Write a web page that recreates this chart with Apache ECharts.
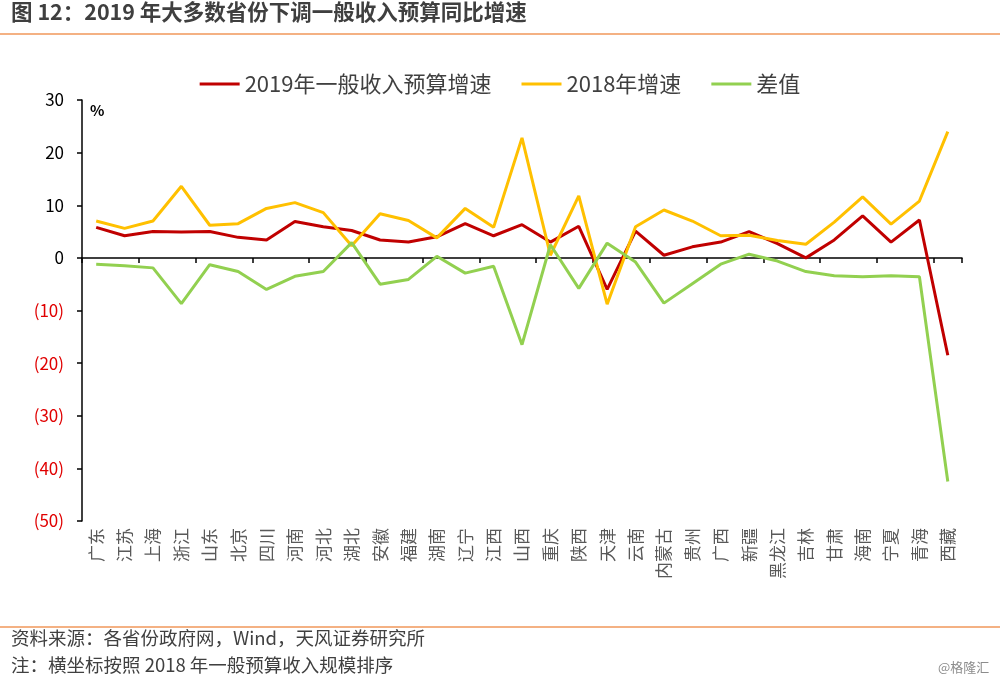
<!DOCTYPE html>
<html lang="zh">
<head>
    <meta charset="UTF-8">
    <title>2019年一般收入预算增速</title>
    <script src="https://cdn.jsdelivr.net/npm/echarts@6/dist/echarts.min.js"></script>
    <style>
        html, body { margin: 0; padding: 0; background: #fff; }
        #chart { width: 1000px; height: 685px; }
    </style>
</head>
<body>
    <div id="chart"></div>
    <script>
        // 省份（按2018年一般预算收入规模排序）
        const provinces = ['广东', '江苏', '上海', '浙江', '山东', '北京', '四川', '河南', '河北', '湖北',
            '安徽', '福建', '湖南', '辽宁', '江西', '山西', '重庆', '陕西', '天津', '云南',
            '内蒙古', '贵州', '广西', '新疆', '黑龙江', '吉林', '甘肃', '海南', '宁夏', '青海', '西藏'];

        const growth2019 = [5.8, 4.2, 5.0, 4.9, 5.0, 3.9, 3.4, 6.9, 5.9, 5.2,
            3.4, 3.0, 4.0, 6.5, 4.2, 6.3, 3.0, 6.0, -6.0, 5.1,
            0.5, 2.1, 3.0, 5.0, 2.7, 0.0, 3.4, 8.0, 3.0, 7.2, -18.5];

        const growth2018 = [7.0, 5.6, 7.0, 13.6, 6.2, 6.5, 9.4, 10.5, 8.6, 2.3,
            8.4, 7.1, 3.8, 9.4, 5.8, 22.8, 0.5, 11.8, -8.8, 5.9,
            9.1, 7.0, 4.2, 4.3, 3.3, 2.6, 6.8, 11.6, 6.4, 10.8, 24.0];

        const diff = [-1.2, -1.5, -1.9, -8.7, -1.3, -2.6, -6.0, -3.5, -2.6, 2.9,
            -5.0, -4.1, 0.3, -2.9, -1.6, -16.5, 2.5, -5.8, 2.8, -0.8,
            -8.6, -4.9, -1.2, 0.7, -0.6, -2.6, -3.4, -3.6, -3.4, -3.6, -42.5];

        const seriesNames = ['2019年一般收入预算增速', '2018年增速', '差值'];
        const colors = ['#C00000', '#FFC000', '#92D050'];

        const font = '"Noto Sans CJK SC", "Noto Sans", sans-serif';
        const chart = echarts.init(document.getElementById('chart'));

        const option = {
            animation: false,
            backgroundColor: '#fff',
            textStyle: { fontFamily: font },
            color: colors,
            grid: { left: 82, right: 38, top: 100, bottom: 164 },
            legend: {
                top: 68,
                left: 'center',
                icon: 'rect',
                itemWidth: 40,
                itemHeight: 3,
                itemGap: 30,
                textStyle: { fontSize: 22, color: '#404040', fontFamily: font },
                data: seriesNames
            },
            xAxis: [{
                type: 'category',
                data: provinces,
                position: 'bottom',
                axisLine: { show: false, onZero: false },
                axisTick: { show: false },
                axisLabel: {
                    rotate: 90,
                    margin: 7,
                    fontSize: 17,
                    color: '#595959',
                    interval: 0,
                    fontFamily: font
                }
            }, {
                // 零轴线及刻度
                type: 'category',
                data: provinces,
                position: 'bottom',
                axisLine: { show: true, onZero: true, lineStyle: { color: '#000', width: 1.5 } },
                axisTick: { show: true, length: 5, lineStyle: { color: '#000', width: 1.5 } },
                axisLabel: { show: false }
            }],
            yAxis: {
                type: 'value',
                min: -50,
                max: 30,
                interval: 10,
                name: '%',
                nameLocation: 'end',
                nameGap: -10,
                nameTextStyle: {
                    fontSize: 15,
                    fontWeight: 'bold',
                    color: '#000',
                    align: 'left',
                    verticalAlign: 'middle',
                    padding: [0, 0, 0, 8]
                },
                axisLine: { show: true, lineStyle: { color: '#000', width: 1.5 } },
                axisTick: { show: true, length: 5, lineStyle: { color: '#000', width: 1.5 } },
                splitLine: { show: false },
                axisLabel: {
                    margin: 18,
                    fontSize: 17,
                    fontFamily: font,
                    color: v => (v < 0 ? '#E00000' : '#000'),
                    formatter: v => (v < 0 ? '(' + Math.abs(v) + ')' : String(v))
                }
            },
            series: seriesNames.map((name, i) => ({
                name: name,
                type: 'line',
                xAxisIndex: 0,
                symbol: 'none',
                lineStyle: { width: 3, color: colors[i] },
                itemStyle: { color: colors[i] },
                data: [growth2019, growth2018, diff][i]
            })),
            graphic: [
                {
                    type: 'text', left: 11, top: 1,
                    style: {
                        text: '图 12：2019 年大多数省份下调一般收入预算同比增速',
                        font: 'bold 21.5px ' + font, fill: '#3f3f3f'
                    }
                },
                {
                    type: 'rect', shape: { x: 0, y: 33, width: 1000, height: 2 },
                    style: { fill: '#F4B183' }
                },
                {
                    type: 'rect', shape: { x: 0, y: 626, width: 1000, height: 2 },
                    style: { fill: '#F4B183' }
                },
                {
                    type: 'text', left: 11, top: 629,
                    style: {
                        text: '资料来源：各省份政府网，Wind，天风证券研究所',
                        font: '18.5px ' + font, fill: '#404040'
                    }
                },
                {
                    type: 'text', left: 11, top: 656,
                    style: {
                        text: '注：横坐标按照 2018 年一般预算收入规模排序',
                        font: '18.5px ' + font, fill: '#404040'
                    }
                },
                {
                    type: 'text', left: 938, top: 661,
                    style: {
                        text: '@格隆汇',
                        font: '13px ' + font, fill: '#8c8c8c'
                    }
                }
            ]
        };

        chart.setOption(option);
    </script>
</body>
</html>
